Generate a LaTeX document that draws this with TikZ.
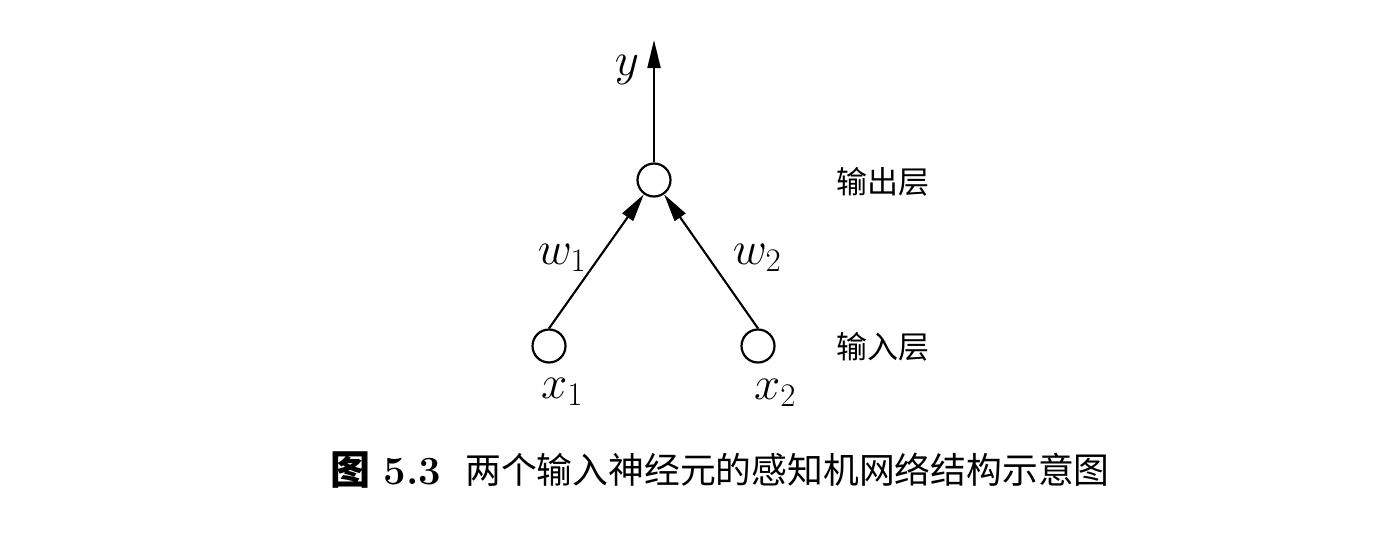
\RequirePackage{fix-cm}
\documentclass[tikz,border=0pt]{standalone}
\usepackage{fontspec}
\newfontfamily\cjk{Noto Sans CJK SC}
\usetikzlibrary{arrows.meta}
\begin{document}
\begin{tikzpicture}[x=1pt,y=1pt,
  neuron/.style={circle,draw,line width=2.2pt,minimum size=33pt,inner sep=0pt},
  conn/.style={line width=2.1pt,-{Triangle[length=28pt,width=13pt]}},
  mathlbl/.style={font=\fontsize{47}{56}\selectfont,inner sep=0pt},
  cjklbl/.style={font=\cjk\fontsize{31}{36}\selectfont,inner sep=0pt},
  caplbl/.style={font=\fontsize{36}{42}\selectfont,inner sep=0pt,anchor=west}]
\useasboundingbox (0,0) rectangle (1388,-546);
\node[neuron] (out) at (654,-180) {};
\node[neuron] (in1) at (549,-346) {};
\node[neuron] (in2) at (758,-346) {};
\coordinate (ytip) at (654,-40);
\draw[conn] (out) -- (ytip);
\draw[conn] (in1.north) -- (out);
\draw[conn] (in2.north) -- (out);
\node[mathlbl] (ylbl) at (627,-70) {$y$};
\node[mathlbl] (w1lbl) at (562,-258) {$w_1$};
\node[mathlbl] (w2lbl) at (757,-258) {$w_2$};
\node[mathlbl] (x1lbl) at (562,-392) {$x_1$};
\node[mathlbl] (x2lbl) at (775,-393) {$x_2$};
\node[cjklbl] (outlayer) at (883,-182) {输出层};
\node[cjklbl] (inlayer) at (883,-347) {输入层};
\node[caplbl,font=\fontsize{40}{46}\selectfont] (capnum) at (330,-470) {{\cjk\bfseries 图}\,\,\textbf{5.3}};
\node[caplbl,font=\cjk\fontsize{35.8}{42}\selectfont] (captext) at (465,-470) {两个输入神经元的感知机网络结构示意图};
\end{tikzpicture}
\end{document}
